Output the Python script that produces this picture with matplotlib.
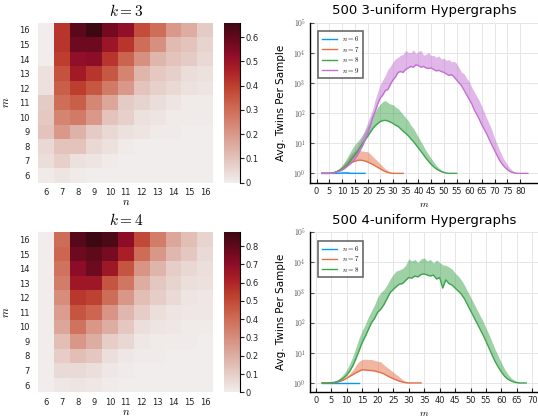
import numpy as np
import matplotlib
matplotlib.use("Agg")
import matplotlib.pyplot as plt
from matplotlib.colors import LinearSegmentedColormap

plt.rcParams['mathtext.fontset'] = 'cm'
plt.rcParams['font.family'] = ['DejaVu Sans']

# ---------------- data ----------------
n_vals = [6, 7, 8, 9, 10, 11, 12, 13, 14, 15, 16]
m_vals = [6, 7, 8, 9, 10, 11, 12, 13, 14, 15, 16]

# rows: m = 6 .. 16, cols: n = 6 .. 16
heat_k3 = [
    [0.01, 0.02, 0.01, 0.00, 0.00, 0.00, 0.00, 0.00, 0.00, 0.00, 0.00],
    [0.04, 0.07, 0.03, 0.02, 0.01, 0.00, 0.00, 0.00, 0.00, 0.00, 0.00],
    [0.05, 0.10, 0.10, 0.05, 0.03, 0.01, 0.00, 0.00, 0.00, 0.00, 0.00],
    [0.10, 0.20, 0.14, 0.08, 0.05, 0.03, 0.02, 0.01, 0.01, 0.00, 0.00],
    [0.09, 0.25, 0.27, 0.20, 0.10, 0.07, 0.03, 0.02, 0.01, 0.01, 0.01],
    [0.08, 0.30, 0.33, 0.24, 0.17, 0.08, 0.06, 0.04, 0.02, 0.01, 0.01],
    [0.03, 0.33, 0.40, 0.35, 0.27, 0.20, 0.10, 0.07, 0.05, 0.03, 0.02],
    [0.03, 0.36, 0.48, 0.42, 0.35, 0.25, 0.13, 0.09, 0.07, 0.04, 0.03],
    [0.00, 0.40, 0.52, 0.53, 0.42, 0.32, 0.22, 0.13, 0.10, 0.08, 0.05],
    [0.00, 0.42, 0.58, 0.58, 0.50, 0.42, 0.30, 0.22, 0.12, 0.10, 0.06],
    [0.00, 0.42, 0.61, 0.66, 0.57, 0.52, 0.37, 0.30, 0.20, 0.15, 0.08],
]

heat_k4 = [
    [0.00, 0.02, 0.03, 0.02, 0.01, 0.00, 0.00, 0.00, 0.00, 0.00, 0.00],
    [0.00, 0.06, 0.06, 0.05, 0.02, 0.01, 0.00, 0.00, 0.00, 0.00, 0.00],
    [0.00, 0.10, 0.15, 0.12, 0.05, 0.02, 0.01, 0.01, 0.00, 0.00, 0.00],
    [0.00, 0.15, 0.27, 0.20, 0.10, 0.07, 0.02, 0.01, 0.01, 0.01, 0.00],
    [0.00, 0.22, 0.38, 0.27, 0.20, 0.12, 0.05, 0.03, 0.02, 0.01, 0.01],
    [0.00, 0.25, 0.47, 0.42, 0.28, 0.17, 0.10, 0.05, 0.03, 0.02, 0.02],
    [0.00, 0.30, 0.55, 0.52, 0.40, 0.27, 0.15, 0.10, 0.06, 0.03, 0.02],
    [0.00, 0.35, 0.65, 0.65, 0.47, 0.37, 0.20, 0.12, 0.08, 0.05, 0.04],
    [0.00, 0.38, 0.70, 0.77, 0.65, 0.47, 0.28, 0.18, 0.10, 0.07, 0.05],
    [0.00, 0.42, 0.77, 0.80, 0.75, 0.62, 0.40, 0.27, 0.17, 0.12, 0.06],
    [0.00, 0.40, 0.82, 0.875, 0.84, 0.70, 0.50, 0.35, 0.22, 0.15, 0.08],
]

# line-plot data: log10 of lower (mean) and upper band values
k3_n6_m = list(range(2, 20))
k3_n6_lo = [0, 0, 0, 0, 0, 0, 0, 0.005, 0.01, 0.01, 0.01, 0.005, 0, 0, 0, 0, 0, 0]
k3_n6_hi = [0, 0, 0, 0, 0, 0, 0.01, 0.03, 0.05, 0.06, 0.06, 0.04, 0.01, 0, 0, 0, 0, 0]

k3_n7_m = list(range(2, 35))
k3_n7_lo = [0, 0, 0, 0, 0.01, 0.03, 0.06, 0.10, 0.15, 0.20, 0.26, 0.32, 0.37, 0.40, 0.43,
            0.44, 0.43, 0.41, 0.38, 0.34, 0.30, 0.25, 0.20, 0.15, 0.10, 0.06, 0.03, 0.01,
            0, 0, 0, 0, 0]
k3_n7_hi = [0, 0, 0, 0, 0.02, 0.05, 0.10, 0.16, 0.25, 0.35, 0.45, 0.58, 0.68, 0.75, 0.78,
            0.76, 0.74, 0.73, 0.72, 0.65, 0.57, 0.48, 0.40, 0.32, 0.23, 0.15, 0.09, 0.04,
            0.01, 0, 0, 0, 0]

k3_n8_m = list(range(2, 56))
k3_n8_lo = [0, 0, 0, 0, 0.01, 0.03, 0.06, 0.10, 0.15, 0.20, 0.28, 0.38, 0.50, 0.60, 0.72,
            0.85, 0.98, 1.10, 1.22, 1.35, 1.48, 1.58, 1.65, 1.72, 1.75, 1.76, 1.74, 1.70,
            1.66, 1.60, 1.56, 1.48, 1.40, 1.33, 1.25, 1.15, 1.06, 0.95, 0.84, 0.73, 0.62,
            0.50, 0.40, 0.30, 0.22, 0.15, 0.10, 0.06, 0.03, 0.01, 0, 0, 0, 0]
k3_n8_hi = [0, 0, 0, 0, 0.03, 0.06, 0.10, 0.17, 0.26, 0.38, 0.52, 0.68, 0.82, 0.95, 1.05,
            1.15, 1.28, 1.40, 1.55, 1.72, 1.90, 2.05, 2.20, 2.30, 2.38, 2.42, 2.35, 2.30,
            2.28, 2.20, 2.15, 2.05, 1.95, 1.85, 1.75, 1.60, 1.50, 1.35, 1.20, 1.05, 0.90,
            0.75, 0.62, 0.50, 0.38, 0.27, 0.18, 0.11, 0.06, 0.03, 0.01, 0, 0, 0]

k3_n9_m = list(range(2, 84))
k3_n9_lo = [0, 0, 0, 0, 0.01, 0.02, 0.04, 0.07, 0.11, 0.16, 0.23, 0.30, 0.38, 0.47, 0.60,
            0.75, 0.90, 1.10, 1.30, 1.55, 1.85, 2.05, 2.30, 2.50, 2.60, 2.75, 2.78, 2.95,
            3.10, 3.20, 3.35, 3.38, 3.35, 3.45, 3.50, 3.55, 3.52, 3.60, 3.58, 3.52, 3.55,
            3.50, 3.48, 3.50, 3.45, 3.40, 3.42, 3.38, 3.35, 3.30, 3.25, 3.28, 3.20, 3.10,
            3.00, 2.90, 2.75, 2.60, 2.45, 2.30, 2.10, 1.95, 1.78, 1.60, 1.45, 1.28, 1.10,
            0.92, 0.75, 0.58, 0.42, 0.30, 0.20, 0.12, 0.06, 0.03, 0.01, 0, 0, 0, 0, 0]
k3_n9_hi = [0, 0, 0, 0, 0.02, 0.04, 0.08, 0.12, 0.18, 0.26, 0.36, 0.48, 0.60, 0.74, 0.90,
            1.06, 1.22, 1.45, 1.68, 1.90, 2.12, 2.45, 2.70, 2.95, 3.10, 3.25, 3.45, 3.55,
            3.70, 3.80, 3.85, 3.92, 3.95, 4.08, 4.02, 4.00, 4.10, 3.98, 4.05, 4.08, 3.92,
            3.95, 4.02, 3.90, 3.92, 3.85, 3.90, 3.80, 3.82, 3.75, 3.78, 3.70, 3.72, 3.65,
            3.50, 3.35, 3.30, 3.15, 3.05, 2.85, 2.70, 2.55, 2.40, 2.20, 2.00, 1.80, 1.62,
            1.40, 1.15, 0.95, 0.75, 0.56, 0.42, 0.28, 0.17, 0.09, 0.04, 0.02, 0, 0, 0, 0]

k4_n6_m = list(range(2, 15))
k4_n6_lo = [0, 0, 0, 0, 0, 0, 0, 0, 0, 0, 0, 0, 0]
k4_n6_hi = [0, 0, 0, 0, 0, 0, 0, 0, 0, 0, 0, 0, 0]

k4_n7_m = list(range(2, 35))
k4_n7_lo = [0, 0, 0, 0, 0.01, 0.03, 0.06, 0.10, 0.16, 0.22, 0.28, 0.34, 0.39, 0.44, 0.43,
            0.42, 0.41, 0.40, 0.37, 0.34, 0.30, 0.24, 0.19, 0.14, 0.10, 0.06, 0.03, 0.01,
            0, 0, 0, 0, 0]
k4_n7_hi = [0, 0, 0, 0, 0.02, 0.05, 0.09, 0.15, 0.22, 0.32, 0.44, 0.60, 0.72, 0.78, 0.79,
            0.78, 0.78, 0.75, 0.72, 0.70, 0.60, 0.52, 0.44, 0.36, 0.28, 0.20, 0.11, 0.05,
            0.02, 0, 0, 0, 0]

k4_n8_m = list(range(2, 69))
k4_n8_lo = [0, 0, 0, 0.01, 0.02, 0.05, 0.10, 0.17, 0.26, 0.40, 0.58, 0.82, 1.08, 1.35, 1.55,
            1.78, 2.00, 2.15, 2.35, 2.45, 2.60, 2.80, 3.00, 3.10, 3.20, 3.28, 3.30, 3.40,
            3.50, 3.48, 3.55, 3.52, 3.60, 3.62, 3.58, 3.55, 3.58, 3.45, 3.50, 3.15, 3.42,
            3.30, 3.25, 3.15, 3.05, 2.95, 2.80, 2.60, 2.40, 2.20, 2.00, 1.80, 1.60, 1.38,
            1.15, 0.92, 0.70, 0.52, 0.36, 0.22, 0.13, 0.07, 0.03, 0.01, 0, 0, 0]
k4_n8_hi = [0, 0, 0, 0.02, 0.05, 0.10, 0.19, 0.30, 0.45, 0.65, 0.90, 1.20, 1.50, 1.75, 1.95,
            2.20, 2.40, 2.60, 2.85, 3.00, 3.10, 3.25, 3.45, 3.60, 3.72, 3.75, 3.80, 3.90,
            4.12, 4.05, 4.10, 4.00, 4.12, 4.15, 4.05, 4.10, 3.98, 4.08, 4.00, 3.92, 3.90,
            3.85, 3.78, 3.65, 3.55, 3.42, 3.25, 3.05, 2.85, 2.65, 2.45, 2.25, 2.05, 1.82,
            1.60, 1.35, 1.10, 0.88, 0.66, 0.46, 0.30, 0.18, 0.10, 0.04, 0.01, 0, 0]

series_k3 = [(6, k3_n6_m, k3_n6_lo, k3_n6_hi), (7, k3_n7_m, k3_n7_lo, k3_n7_hi),
             (8, k3_n8_m, k3_n8_lo, k3_n8_hi), (9, k3_n9_m, k3_n9_lo, k3_n9_hi)]
series_k4 = [(6, k4_n6_m, k4_n6_lo, k4_n6_hi), (7, k4_n7_m, k4_n7_lo, k4_n7_hi),
             (8, k4_n8_m, k4_n8_lo, k4_n8_hi)]

colors = {6: '#009AFA', 7: '#E36F47', 8: '#3EA44E', 9: '#C271D2'}

# cmocean "amp"-like colormap
amp = LinearSegmentedColormap.from_list('amp', [
    (0.0, (0.945, 0.929, 0.925)),
    (0.1, (0.906, 0.820, 0.800)),
    (0.2, (0.875, 0.710, 0.671)),
    (0.3, (0.851, 0.600, 0.541)),
    (0.4, (0.824, 0.490, 0.412)),
    (0.5, (0.792, 0.376, 0.290)),
    (0.6, (0.745, 0.255, 0.188)),
    (0.7, (0.675, 0.125, 0.153)),
    (0.8, (0.553, 0.051, 0.157)),
    (0.9, (0.400, 0.035, 0.114)),
    (1.0, (0.235, 0.035, 0.071)),
])

W, H = 538, 417
fig = plt.figure(figsize=(W / 100, H / 100), dpi=100)


def fx(px):
    return px / W


def fy(py):
    return 1 - py / H


def heat(top, bottom, data, title, vmax, cticks):
    ax = fig.add_axes([fx(38.3), fy(bottom), fx(175), (bottom - top) / H])
    cax = fig.add_axes([fx(224), fy(bottom), fx(16), (bottom - top) / H])
    edges_n = np.arange(len(n_vals) + 1) + n_vals[0] - 0.5
    edges_m = np.arange(len(m_vals) + 1) + m_vals[0] - 0.5
    mesh = ax.pcolormesh(edges_n, edges_m, np.array(data), cmap=amp, vmin=0, vmax=vmax)
    ax.set_xticks(n_vals)
    ax.set_yticks(m_vals)
    ax.tick_params(length=0, labelsize=6, colors='#222222')
    ax.tick_params(axis='x', pad=4)
    ax.tick_params(axis='y', pad=6)
    for s in ax.spines.values():
        s.set_visible(False)
    ax.set_title(title, fontsize=11, pad=5)
    ax.set_xlabel('$n$', fontsize=8, labelpad=0)
    ax.set_ylabel('$m$', fontsize=8, labelpad=6)
    cb = fig.colorbar(mesh, cax=cax, ticks=cticks)
    cb.outline.set_visible(False)
    cax.spines['right'].set_visible(True)
    cax.spines['right'].set_linewidth(0.8)
    cax.tick_params(labelsize=6, length=3, width=0.8, colors='#222222', pad=1)
    cb.ax.set_yticklabels([('%g' % t) for t in cticks])


heat(22.7, 182.7, heat_k3, '$k = 3$', 0.66, [0, 0.1, 0.2, 0.3, 0.4, 0.5, 0.6])
heat(232.3, 392.3, heat_k4, '$k = 4$', 0.875, [0, 0.1, 0.2, 0.3, 0.4, 0.5, 0.6, 0.7, 0.8])


def lines(top, bottom, series, title, xlim, xticks):
    ax = fig.add_axes([fx(310), fy(bottom), fx(228), (bottom - top) / H])
    for n, ms, lo, hi in series:
        c = colors[n]
        lo_v = [10 ** v for v in lo]
        hi_v = [10 ** v for v in hi]
        ax.fill_between(ms, lo_v, hi_v, color=c, alpha=0.5, linewidth=0)
        ax.plot(ms, lo_v, color=c, lw=1.0, label='$n = %d$' % n)
    ax.set_yscale('log')
    ax.set_ylim(10 ** -0.31, 10 ** 5.0)
    ax.set_xlim(*xlim)
    ax.set_yticks([10 ** i for i in range(6)])
    ax.set_yticklabels(['$10^{%d}$' % i for i in range(6)])
    ax.yaxis.set_minor_locator(matplotlib.ticker.NullLocator())
    ax.set_xticks(xticks)
    ax.grid(True, color='#e6e6e6', lw=0.7)
    ax.set_axisbelow(True)
    for s in ['top', 'right']:
        ax.spines[s].set_visible(False)
    for s in ['left', 'bottom']:
        ax.spines[s].set_linewidth(1.0)
    ax.tick_params(axis='x', direction='in', length=3, labelsize=6, colors='#222222', pad=3)
    ax.tick_params(axis='y', direction='in', length=3, labelsize=5.5, colors='#555555', pad=3)
    ax.set_title(title, fontsize=9.5, pad=6)
    ax.set_ylabel('Avg. Twins Per Sample', fontsize=7.5, labelpad=5)
    ax.set_xlabel('$m$', fontsize=7, labelpad=2)
    leg = ax.legend(loc='upper left', fontsize=5, frameon=True, fancybox=False,
                    handlelength=2.2, borderpad=0.5, labelspacing=0.2,
                    bbox_to_anchor=(0.02, 0.97))
    leg.get_frame().set_edgecolor('#444444')
    leg.get_frame().set_linewidth(1.2)


lines(22.7, 182.7, series_k3, '500 3-uniform Hypergraphs', (-2.6, 87),
      list(range(0, 85, 5)))
lines(232.3, 392.3, series_k4, '500 4-uniform Hypergraphs', (-1.9, 71.8),
      list(range(0, 75, 5)))

fig.savefig('out.png', dpi=100)
